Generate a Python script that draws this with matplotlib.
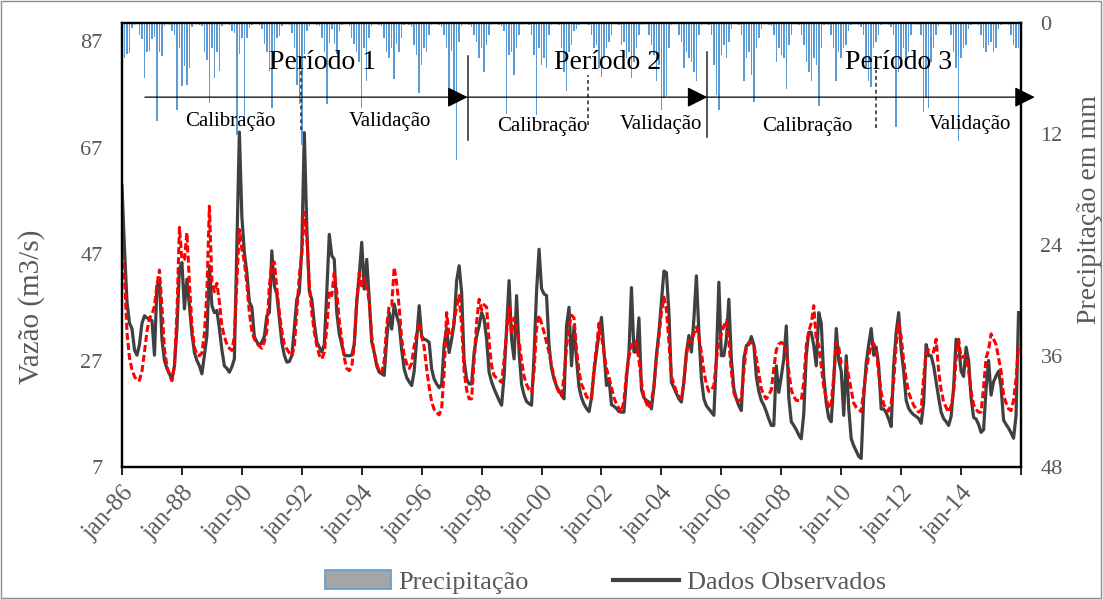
import numpy as np
import matplotlib
matplotlib.use('Agg')
import matplotlib.pyplot as plt
from matplotlib.patches import Patch, Rectangle
from matplotlib.lines import Line2D
from matplotlib.transforms import blended_transform_factory

# monthly series, jan-1986 .. dec-2015 (one row per year)
vazao_obs = [
    59.8, 48.0, 38.0, 34.0, 33.0, 29.0, 28.0, 30.0, 34.0, 35.4, 35.0, 34.8,
    34.5, 28.0, 41.0, 42.0, 31.0, 27.0, 25.5, 24.5, 23.5, 26.0, 33.0, 44.2,
    45.4, 36.7, 42.3, 37.3, 32.0, 28.5, 27.0, 26.0, 24.5, 28.0, 31.7, 44.8,
    37.3, 36.0, 36.4, 33.0, 29.0, 26.0, 25.5, 24.8, 25.8, 27.3, 49.0, 69.9,
    54.0, 47.3, 43.5, 38.0, 37.0, 31.5, 30.5, 29.8, 30.5, 31.5, 35.4, 36.0,
    47.6, 41.0, 39.5, 35.0, 30.4, 28.0, 26.7, 26.8, 27.9, 33.0, 38.5, 39.8,
    48.0, 69.8, 52.0, 40.0, 38.5, 34.0, 30.5, 29.5, 28.6, 30.0, 39.8, 50.7,
    46.7, 46.0, 36.0, 32.0, 30.0, 28.0, 27.9, 27.9, 28.0, 30.0, 38.0, 43.0,
    49.2, 40.4, 46.0, 38.5, 30.5, 28.5, 26.0, 24.8, 24.5, 24.2, 31.0, 36.0,
    32.9, 37.6, 35.4, 33.8, 29.0, 25.4, 23.8, 23.0, 22.3, 25.0, 31.0, 37.3,
    31.5, 31.0, 30.8, 30.4, 25.4, 23.5, 22.6, 21.9, 22.5, 30.0, 33.0, 28.5,
    31.0, 34.0, 42.0, 44.8, 39.8, 27.0, 23.5, 22.6, 22.6, 28.5, 31.5, 33.5,
    36.0, 34.8, 31.0, 24.8, 23.0, 21.7, 20.6, 19.5, 18.6, 24.0, 33.0, 42.0,
    31.0, 27.3, 39.2, 28.6, 22.5, 20.5, 19.3, 18.9, 18.6, 28.0, 40.0, 47.9,
    40.5, 39.5, 39.2, 29.8, 25.5, 23.5, 22.2, 21.3, 20.5, 19.8, 33.5, 37.0,
    26.0, 33.5, 27.3, 22.0, 20.0, 18.8, 18.0, 17.4, 20.0, 24.8, 28.6, 32.0,
    35.1, 28.6, 22.3, 23.6, 18.7, 18.4, 18.0, 17.4, 17.3, 17.3, 23.6, 28.6,
    40.7, 28.6, 28.6, 35.0, 21.5, 20.0, 19.5, 19.2, 17.9, 22.0, 28.0, 32.3,
    38.0, 43.8, 43.5, 36.0, 22.9, 21.9, 20.8, 19.8, 19.2, 23.0, 28.5, 31.7,
    28.6, 34.8, 42.9, 32.3, 23.6, 19.8, 18.5, 17.9, 17.3, 16.7, 27.3, 41.7,
    27.9, 27.9, 31.0, 38.5, 27.3, 21.7, 19.8, 18.5, 17.6, 27.3, 29.8, 30.0,
    31.5, 30.0, 24.0, 21.2, 19.5, 18.6, 17.4, 16.0, 14.8, 14.8, 26.0, 21.0,
    24.0, 27.3, 33.5, 20.0, 15.5, 14.8, 14.0, 13.0, 12.3, 17.0, 28.0, 32.3,
    32.3, 29.8, 26.0, 36.0, 34.0, 24.0, 19.0, 16.2, 15.5, 23.0, 33.0, 27.0,
    25.0, 16.7, 27.9, 18.0, 12.3, 11.0, 10.0, 9.0, 8.6, 20.0, 26.5, 30.0,
    33.0, 28.0, 29.5, 26.0, 17.9, 17.9, 17.2, 16.0, 14.6, 26.0, 32.3, 36.0,
    29.0, 25.0, 19.5, 18.0, 17.3, 16.8, 16.5, 16.1, 15.2, 19.0, 30.0, 27.9,
    27.9, 26.0, 23.0, 20.0, 17.3, 16.1, 15.5, 14.8, 16.5, 22.0, 31.0, 30.0,
    25.0, 24.0, 29.5, 27.0, 20.0, 16.3, 16.0, 15.0, 13.5, 14.0, 21.7, 27.0,
    20.5, 23.0, 24.1, 25.0, 22.0, 15.8, 15.0, 14.3, 13.4, 12.4, 16.7, 36.0,
]

vazao_sim = [
    47.3, 42.9, 32.3, 27.5, 25.3, 24.0, 23.2, 23.3, 25.0, 28.6, 32.5, 35.0,
    35.6, 37.2, 41.2, 44.0, 37.0, 29.0, 26.0, 24.2, 23.2, 26.0, 36.0, 52.0,
    46.0, 46.0, 51.0, 41.5, 33.5, 29.5, 28.1, 27.9, 28.4, 32.0, 40.0, 56.0,
    41.7, 39.9, 41.5, 38.0, 33.5, 31.5, 30.0, 29.3, 28.9, 31.5, 42.0, 51.6,
    47.9, 45.5, 41.3, 36.0, 32.5, 31.0, 30.2, 29.7, 29.3, 30.5, 32.5, 41.0,
    45.0, 45.5, 40.5, 36.0, 32.5, 30.0, 29.2, 28.4, 27.9, 29.6, 36.0, 43.0,
    47.0, 54.8, 50.0, 41.3, 36.0, 32.3, 29.8, 28.0, 27.3, 28.5, 33.0, 40.0,
    39.2, 43.5, 40.0, 34.5, 31.0, 27.5, 25.5, 25.1, 25.8, 30.0, 38.0, 43.5,
    41.0, 42.5, 41.0, 38.0, 31.5, 28.5, 26.5, 24.8, 24.8, 27.0, 33.5, 37.3,
    37.3, 44.5, 41.5, 37.0, 31.0, 28.0, 26.4, 25.5, 26.5, 29.8, 32.0, 34.2,
    31.5, 29.5, 25.4, 22.0, 19.2, 17.8, 17.2, 16.8, 18.0, 24.8, 36.0, 31.7,
    31.8, 34.5, 37.0, 39.2, 33.5, 25.0, 21.5, 19.8, 19.8, 27.0, 34.2, 38.5,
    36.5, 37.5, 37.0, 30.5, 26.0, 24.2, 23.7, 23.3, 22.9, 27.0, 32.3, 37.3,
    32.0, 35.0, 33.0, 30.5, 27.0, 24.0, 22.5, 21.5, 21.0, 25.0, 33.0, 35.5,
    34.0, 32.3, 30.4, 28.5, 26.0, 24.0, 22.0, 21.0, 20.4, 24.0, 29.5, 33.5,
    35.5, 35.0, 29.0, 25.0, 22.5, 21.5, 20.2, 19.8, 19.8, 25.5, 29.5, 34.0,
    31.5, 28.5, 25.5, 23.8, 22.0, 20.0, 18.8, 18.0, 17.3, 19.5, 24.5, 27.7,
    29.6, 30.7, 30.5, 27.0, 23.0, 20.2, 19.0, 18.0, 19.5, 22.0, 27.5, 31.5,
    36.0, 38.9, 36.5, 30.5, 24.0, 22.5, 21.2, 20.3, 19.8, 23.0, 28.0, 30.8,
    30.6, 32.0, 33.3, 31.5, 28.5, 25.0, 22.5, 21.2, 21.5, 22.3, 27.0, 30.5,
    32.0, 33.5, 34.5, 30.5, 25.0, 21.0, 19.5, 19.4, 19.8, 25.0, 29.5, 30.4,
    30.4, 30.0, 27.5, 24.5, 21.7, 20.5, 19.8, 20.5, 21.5, 25.5, 29.0, 30.1,
    30.4, 30.1, 28.5, 25.0, 21.5, 20.2, 19.5, 19.5, 19.5, 23.0, 29.8, 32.5,
    34.0, 37.3, 31.0, 29.9, 26.0, 22.0, 20.0, 18.0, 19.0, 24.0, 30.5, 29.5,
    26.5, 26.5, 26.5, 24.0, 21.5, 19.0, 18.2, 17.8, 17.4, 21.5, 25.0, 27.8,
    30.0, 30.2, 29.0, 24.5, 21.0, 18.8, 17.9, 17.5, 19.0, 23.0, 30.0, 34.0,
    31.5, 27.0, 23.5, 21.0, 19.7, 18.6, 17.9, 17.3, 17.6, 24.0, 28.3, 29.0,
    28.6, 28.6, 31.0, 25.0, 21.5, 19.2, 18.2, 17.3, 18.5, 21.0, 27.3, 31.0,
    27.5, 27.8, 27.8, 25.0, 21.2, 18.7, 17.8, 17.3, 17.3, 22.0, 27.5, 29.0,
    32.0, 31.0, 30.0, 27.5, 25.0, 20.5, 19.0, 17.9, 17.6, 19.5, 23.6, 30.0,
]

precip = [
    7.2, 3.8, 3.4, 3.2, 0.5, 0.2, 0.1, 1.3, 1.7, 5.9, 3.1, 3.0,
    1.7, 1.5, 10.6, 3.1, 3.6, 0.3, 0.1, 0.2, 0.9, 1.3, 9.4, 2.7,
    6.8, 4.7, 6.7, 4.9, 0.4, 0.1, 0.1, 0.2, 0.3, 3.1, 4.0, 8.7,
    2.7, 5.9, 3.1, 5.2, 0.3, 0.1, 0.1, 0.2, 0.9, 1.1, 12.1, 3.4,
    1.6, 10.3, 1.6, 0.5, 0.2, 0.1, 0.1, 0.2, 0.7, 2.3, 3.1, 5.2,
    9.2, 4.0, 1.6, 1.4, 0.3, 0.1, 0.1, 0.2, 1.1, 2.7, 6.7, 8.8,
    13.2, 3.4, 0.9, 0.3, 0.1, 0.1, 0.2, 0.3, 1.6, 3.1, 8.8, 2.2,
    0.7, 2.3, 3.4, 0.9, 0.2, 0.1, 0.1, 0.3, 1.6, 2.3, 3.1, 4.2,
    9.2, 2.7, 6.3, 1.6, 0.3, 0.1, 0.1, 0.2, 0.3, 1.6, 3.1, 3.8,
    2.7, 6.1, 2.3, 3.1, 1.6, 0.2, 0.1, 0.2, 0.4, 2.4, 3.5, 7.6,
    4.5, 2.7, 3.1, 1.3, 0.2, 0.1, 0.1, 0.2, 0.4, 1.3, 2.7, 8.9,
    3.0, 8.7, 14.8, 2.0, 0.3, 0.1, 0.1, 0.2, 0.4, 1.3, 2.0, 3.8,
    2.7, 5.3, 2.4, 1.3, 0.2, 0.1, 0.1, 0.2, 0.3, 0.9, 9.8, 3.5,
    3.1, 5.6, 2.7, 1.3, 0.2, 0.1, 0.1, 0.2, 1.3, 3.5, 10.0, 2.7,
    4.5, 3.8, 4.9, 1.3, 0.2, 0.1, 0.1, 0.2, 2.7, 5.3, 7.4, 3.1,
    2.4, 0.9, 0.6, 0.2, 0.1, 0.1, 0.1, 0.2, 1.3, 2.7, 2.4, 4.9,
    5.8, 3.8, 2.7, 2.0, 1.3, 0.1, 0.1, 0.2, 2.4, 2.0, 3.8, 3.1,
    6.0, 4.2, 2.7, 1.3, 0.2, 0.1, 0.1, 1.3, 2.4, 3.5, 6.3, 4.5,
    9.4, 8.1, 7.9, 2.7, 0.2, 0.1, 0.1, 1.3, 2.0, 4.9, 3.1, 3.8,
    4.2, 5.3, 6.3, 1.3, 0.2, 0.1, 0.1, 0.2, 1.3, 4.5, 7.8, 9.4,
    3.5, 2.4, 3.8, 2.0, 0.6, 0.1, 0.1, 0.2, 1.3, 6.3, 3.8, 3.1,
    5.6, 8.5, 2.7, 1.6, 0.6, 0.1, 0.1, 0.2, 0.3, 1.3, 4.2, 2.7,
    3.5, 3.8, 7.1, 2.4, 1.3, 0.1, 0.1, 0.2, 1.3, 2.4, 4.2, 5.3,
    6.3, 3.8, 4.5, 9.0, 2.7, 0.2, 0.1, 0.2, 1.3, 2.7, 6.3, 3.1,
    3.8, 2.7, 2.4, 0.9, 0.2, 0.1, 0.1, 0.2, 0.4, 1.3, 4.9, 6.3,
    6.9, 2.7, 2.0, 1.3, 0.2, 0.1, 0.1, 0.2, 0.4, 1.3, 11.2, 5.3,
    3.8, 2.7, 4.5, 3.1, 1.3, 0.1, 0.1, 0.2, 1.3, 9.6, 8.1, 9.2,
    4.2, 2.7, 1.3, 0.3, 0.1, 0.1, 0.1, 0.2, 1.3, 3.1, 4.9, 12.8,
    3.8, 2.7, 2.4, 0.6, 0.2, 0.1, 0.1, 0.2, 1.3, 2.7, 3.1, 2.4,
    2.0, 3.1, 2.7, 0.6, 0.2, 0.1, 0.1, 0.2, 1.3, 2.4, 2.7, 2.7,
]

tick_labels = ['jan-86', 'jan-88', 'jan-90', 'jan-92', 'jan-94', 'jan-96',
               'jan-98', 'jan-00', 'jan-02', 'jan-04', 'jan-06', 'jan-08',
               'jan-10', 'jan-12', 'jan-14', '']

# period annotations: (x in months from jan-86)
period_names = ['Período 1', 'Período 2', 'Período 3']
period_x = [80.4, 194.4, 311.0]
stage_names = ['Calibração', 'Validação', 'Calibração', 'Validação',
               'Calibração', 'Validação']
stage_x = [43.2, 107.2, 168.4, 216.0, 274.4, 339.6]
stage_y = [0.778, 0.778, 0.766, 0.772, 0.766, 0.772]

GRAY = '#595959'
plt.rcParams['font.family'] = ['Liberation Serif', 'DejaVu Serif']

months = np.arange(len(vazao_obs))

fig = plt.figure(figsize=(11.03, 5.99), dpi=100)
ax = fig.add_axes([0.1106, 0.2204, 0.8151, 0.7412])
ax2 = ax.twinx()

ax.plot(months, vazao_obs, color='#404040', lw=2.3, zorder=3)
ax.plot(months, vazao_sim, color='#FF0000', lw=2.2,
        linestyle=(0, (2.3, 1.0)), zorder=4)

ax2.bar(months, precip, width=0.6, color='#5B9BD5', align='center')
ax2.set_ylim(48, 0)
ax2.set_yticks([0, 12, 24, 36, 48])

ax.set_xlim(0, 360)
ax.set_ylim(7, 90.4)
ax.set_yticks([7, 27, 47, 67, 87])
ax.set_xticks(np.arange(0, 361, 24))
ax.set_xticklabels(tick_labels, rotation=48, ha='right', va='top',
                   rotation_mode='anchor')

ax.tick_params(axis='x', direction='out', length=6, width=1.2, pad=5,
               labelsize=18, labelcolor=GRAY, color='black')
ax.tick_params(axis='y', length=0, pad=14, labelsize=16, labelcolor=GRAY)
ax2.tick_params(axis='y', length=0, pad=14, labelsize=16, labelcolor=GRAY)

for a in (ax, ax2):
    for s in a.spines.values():
        s.set_color('black')
        s.set_linewidth(1.6)

ax.set_ylabel('Vazão (m3/s)', fontsize=21, color=GRAY)
ax.yaxis.set_label_coords(-0.086, 0.36)
ax2.set_ylabel('Precipitação em mm', fontsize=20, color=GRAY, rotation=90)
ax2.yaxis.set_label_coords(1.062, 0.58)

# period / stage annotations
tr = blended_transform_factory(ax2.transData, ax2.transAxes)
arrow_y = 0.833
arrow_segs = [(9.2, 138.4), (138.4, 234.4), (234.4, 365.5)]
for x0, x1 in arrow_segs:
    ax2.annotate('', xy=(x1, arrow_y), xytext=(x0, arrow_y),
                 xycoords=tr, textcoords=tr, annotation_clip=False,
                 arrowprops=dict(arrowstyle='-|>,head_length=0.9,head_width=0.45',
                                 color='black', lw=0.9, mutation_scale=14,
                                 shrinkA=0, shrinkB=0))

for xv, y0, y1 in [(138.4, 0.736, 0.926), (234.4, 0.743, 0.935)]:
    ax2.plot([xv, xv], [y0, y1], transform=tr, color='#262626', lw=1.1)
for xv, y0, y1 in [(71.5, 0.759, 0.894), (186.5, 0.770, 0.883), (301.9, 0.764, 0.894)]:
    ax2.plot([xv, xv], [y0, y1], transform=tr, color='#262626', lw=1.1,
             linestyle=(0, (2.5, 2)))

for name, xv in zip(period_names, period_x):
    ax2.text(xv, 0.912, name, transform=tr, ha='center', va='center',
             fontsize=20, color='black')
for name, xv, yv in zip(stage_names, stage_x, stage_y):
    ax2.text(xv, yv, name, transform=tr, ha='center', va='center',
             fontsize=15, color='black')

handles = [Patch(facecolor='#A5A5A5', edgecolor='#5B9BD5', lw=1.2),
           Line2D([], [], color='#404040', lw=3)]
fig.legend(handles, ['Precipitação', 'Dados Observados'], loc='center',
           bbox_to_anchor=(0.549, 0.028), ncol=2, frameon=False,
           fontsize=19, labelcolor=GRAY, handlelength=2.5,
           handleheight=0.7, handletextpad=0.3, columnspacing=3.2)

fig.patches.append(Rectangle((0.001, 0.001), 0.997, 0.997, transform=fig.transFigure,
                             fill=False, edgecolor='#8C8C8C', lw=1))

fig.savefig('out.png', dpi=100, facecolor='white')
